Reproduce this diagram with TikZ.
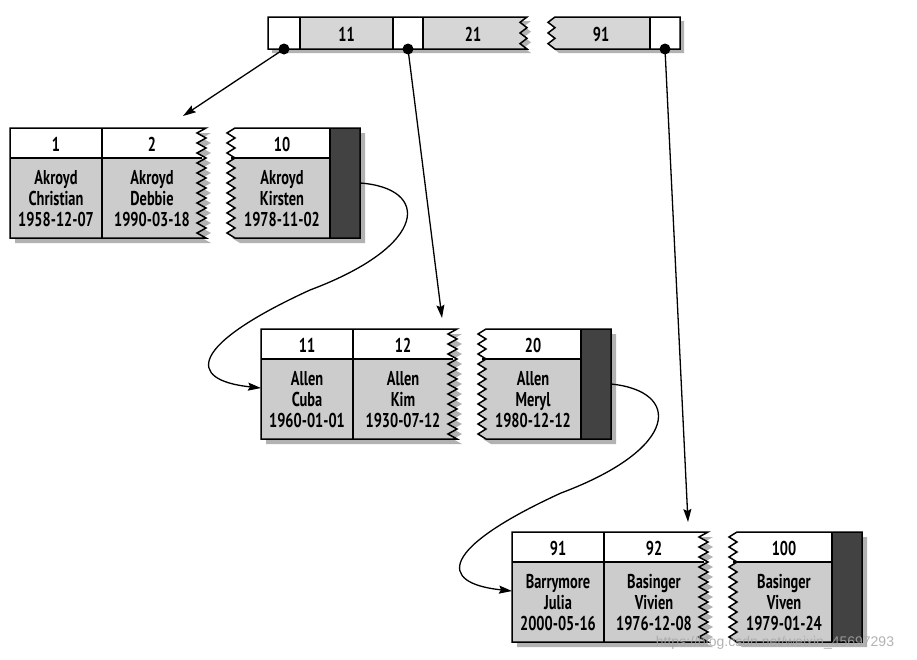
\documentclass[tikz,border=0pt]{standalone}
\usepackage{fontspec}
\newfontfamily\lblfont[FakeStretch=0.72]{PT Sans}
\newfontfamily\wmfont{Liberation Sans}
\usetikzlibrary{arrows.meta}
\definecolor{bodyc}{RGB}{204,204,204}
\definecolor{keyc}{RGB}{214,214,214}
\definecolor{darkc}{RGB}{66,66,66}
\definecolor{shadc}{RGB}{178,178,178}
\def\pieceA{(0,0) -- (196,0) \foreach\i in {1,...,11}{ -- ++(-9,5) -- ++(9,5)} -- (0,110) -- cycle}
\def\pieceB{(225,0) -- (350,0) -- (350,110) -- (225,110) \foreach\i in {1,...,11}{ -- ++(-8,-5) -- ++(8,-5)} -- cycle}
\def\topA{(0,0) -- (259,0) \foreach\i in {1,...,3}{ -- ++(-7,5.333) -- ++(7,5.333)} -- (0,32) -- cycle}
\def\topB{(287,0) -- (412,0) -- (412,32) -- (287,32) \foreach\i in {1,...,3}{ -- ++(-7,-5.333) -- ++(7,-5.333)} -- cycle}
\newcommand\leaf[8]{%
\begin{scope}[shift={(#2)}]
  \begin{scope}[shift={(5,5)}]
    \fill[shadc] \pieceA;
    \fill[shadc] \pieceB;
  \end{scope}
  \begin{scope}
    \clip \pieceA;
    \fill[bodyc] (0,0) rectangle (200,110);
    \fill[white] (0,0) rectangle (200,30);
  \end{scope}
  \begin{scope}
    \clip \pieceB;
    \fill[bodyc] (210,0) rectangle (320,110);
    \fill[white] (210,0) rectangle (320,30);
    \fill[darkc] (320,0) rectangle (350,110);
  \end{scope}
  \draw[box] \pieceA;
  \draw[box] \pieceB;
  \draw[box] (0,30) -- (192,30) (92,0) -- (92,110);
  \draw[box] (221,30) -- (320,30) (320,0) -- (320,110);
  \node[lbl] (#1h1) at (46,16) {#3};
  \node[lbl] (#1h2) at (142,16) {#4};
  \node[lbl] (#1h3) at (272,16) {#5};
  \node[lbl] (#1b1) at (46,71) {#6};
  \node[lbl] (#1b2) at (142,71) {#7};
  \node[lbl] (#1b3) at (272,71) {#8};
  \coordinate (#1out) at (350,55);
  \coordinate (#1in) at (0,59);
\end{scope}}
\begin{document}
\begin{tikzpicture}[x=1pt,y=-1pt,line join=miter,
  box/.style={draw=black,line width=1.5pt},
  lbl/.style={font=\lblfont\bfseries\fontsize{20}{21}\selectfont,align=center,inner sep=0pt},
  ptr/.style={line width=1.3pt,-{Stealth[length=13pt,width=8pt,inset=2pt]}},
  dot/.style={circle,fill=black,inner sep=0pt,minimum size=11pt}]
\useasboundingbox (0,0) rectangle (917,659);
\fill[white] (0,0) rectangle (917,659);
% root node
\begin{scope}[shift={(268,17)}]
  \begin{scope}[shift={(4,4)}]
    \fill[shadc] \topA;
    \fill[shadc] \topB;
  \end{scope}
  \begin{scope}
    \clip \topA;
    \fill[white] (0,0) rectangle (262,32);
    \fill[keyc] (32,0) rectangle (125,32);
    \fill[keyc] (155,0) rectangle (262,32);
  \end{scope}
  \begin{scope}
    \clip \topB;
    \fill[keyc] (275,0) rectangle (382,32);
    \fill[white] (382,0) rectangle (412,32);
  \end{scope}
  \draw[box] \topA;
  \draw[box] \topB;
  \draw[box] (32,0) -- (32,32) (125,0) -- (125,32) (155,0) -- (155,32) (382,0) -- (382,32);
  \node[lbl] (k11) at (78.5,17) {11};
  \node[lbl] (k21) at (205,17) {21};
  \node[lbl] (k91) at (333,17) {91};
  \node[dot] (d1) at (16,32) {};
  \node[dot] (d2) at (140,32) {};
  \node[dot] (d3) at (397,32) {};
\end{scope}
\leaf{La}{10,128}{1}{2}{10}{Akroyd\\Christian\\1958-12-07}{Akroyd\\Debbie\\1990-03-18}{Akroyd\\Kirsten\\1978-11-02}
\leaf{Lb}{261,329}{11}{12}{20}{Allen\\Cuba\\1960-01-01}{Allen\\Kim\\1930-07-12}{Allen\\Meryl\\1980-12-12}
\leaf{Lc}{512,532}{91}{92}{100}{Barrymore\\Julia\\2000-05-16}{Basinger\\Vivien\\1976-12-08}{Basinger\\Viven\\1979-01-24}
% connectors
\coordinate (tip1) at (183,116);
\coordinate (tip2) at (442,318);
\coordinate (tip3) at (688,522);
\draw[ptr] (d1.center) -- (tip1);
\draw[ptr] (d2.center) -- (tip2);
\draw[ptr] (d3.center) -- (tip3);
\coordinate (m1) at (310,290);
\coordinate (m2) at (561,493);
\draw[ptr] (Laout) .. controls (430,188) and (430,245) .. (m1) .. controls (190,345) and (185,380) .. (Lbin);
\draw[ptr] (Lbout) .. controls (681,391) and (681,448) .. (m2) .. controls (441,548) and (436,583) .. (Lcin);
\node[font=\wmfont\fontsize{14}{14}\selectfont,text=gray!70,opacity=0.85,inner sep=0pt] (wm) at (775,643) {https://blog.csdn.net/weixin\_45697293};
\end{tikzpicture}
\end{document}
